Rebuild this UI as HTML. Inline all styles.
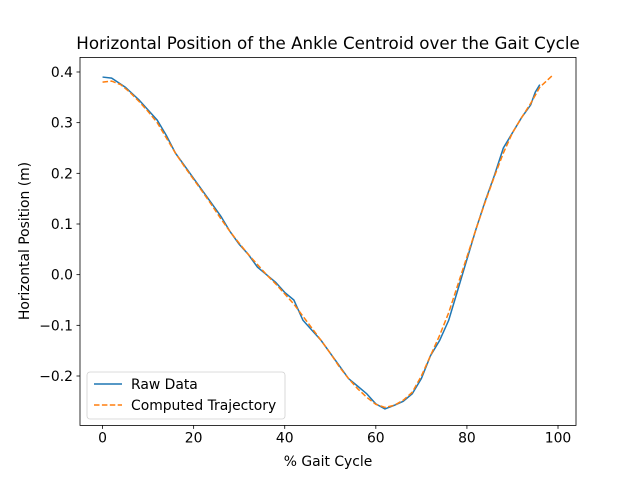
<!DOCTYPE html>
<html><head><meta charset="utf-8"><style>
body{margin:0;background:#fff}
svg{font-family:"DejaVu Sans","Liberation Sans",sans-serif}
</style></head><body>
<svg id="c" width="640" height="478"></svg>
<script>
const rawX=[0,2,3,5,8,10,12,14,16,18,20,22,24,26,28,30,32,34,36,38,40,42,44,46,48,50,52,54,56,58,60,62,64,66,68,70,72,74,76,78,80,82,84,86,88,90,92,94,95,96];
const rawY=[0.39,0.388,0.382,0.37,0.345,0.325,0.305,0.275,0.24,0.215,0.19,0.165,0.14,0.115,0.085,0.06,0.04,0.015,0.0,-0.015,-0.035,-0.05,-0.09,-0.11,-0.13,-0.155,-0.18,-0.205,-0.22,-0.235,-0.255,-0.265,-0.258,-0.25,-0.235,-0.205,-0.16,-0.13,-0.09,-0.03,0.03,0.09,0.145,0.195,0.25,0.28,0.31,0.335,0.36,0.375];
const compX=[0,2,4,6,8,10,12,14,16,18,20,22,24,26,28,30,32,34,36,38,40,42,44,46,48,50,52,54,56,58,60,62,64,66,68,70,72,74,76,78,80,82,84,86,88,90,92,94,96,99];
const compY=[0.38,0.382,0.375,0.36,0.342,0.322,0.3,0.27,0.24,0.213,0.188,0.163,0.137,0.11,0.085,0.062,0.04,0.02,0.0,-0.018,-0.038,-0.058,-0.082,-0.106,-0.13,-0.155,-0.182,-0.205,-0.225,-0.242,-0.256,-0.262,-0.258,-0.248,-0.232,-0.2,-0.16,-0.12,-0.075,-0.02,0.035,0.09,0.143,0.193,0.24,0.28,0.31,0.338,0.37,0.395];
const xTicks=[0,20,40,60,80,100];
const yTicks=[-0.2,-0.1,0.0,0.1,0.2,0.3,0.4];
const L=80,R=576,T=57.4,B=425.4,x0=-4.95,x1=103.95,y0=-0.2975,y1=0.4288;
const sx=v=>L+(v-x0)/(x1-x0)*(R-L), sy=v=>B-(v-y0)/(y1-y0)*(B-T);
const svg=document.getElementById('c');const NS='http://www.w3.org/2000/svg';
function mk(t,a,p){const e=document.createElementNS(NS,t);for(const k in a)e.setAttribute(k,a[k]);(p||svg).appendChild(e);return e;}
const fr=mk('rect',{x:L,y:T,width:R-L,height:B-T,fill:'none',stroke:'#000','stroke-width':0.8});

xTicks.forEach(v=>{const x=sx(v);mk('line',{x1:x,x2:x,y1:B,y2:B+3.5,stroke:'#000','stroke-width':0.8});
const t=mk('text',{x:x,y:B+17,'font-size':13.9,'text-anchor':'middle'});t.textContent=v;
});
yTicks.forEach(v=>{const y=sy(v);mk('line',{x1:L-3.5,x2:L,y1:y,y2:y,stroke:'#000','stroke-width':0.8});
const t=mk('text',{x:L-7,y:y+5,'font-size':13.9,'text-anchor':'end'});t.textContent=v.toFixed(1).replace('-','\u2212');
});
function line(xs,ys,col,dash,name){const p=mk('polyline',{points:xs.map((x,i)=>sx(x)+','+sy(ys[i])).join(' '),fill:'none',stroke:col,'stroke-width':1.5});
if(dash)p.setAttribute('stroke-dasharray',dash);}
line(rawX,rawY,'#1f77b4',null,'raw-data-line');
line(compX,compY,'#ff7f0e','5.5,2.4','computed-trajectory-line');
let t=mk('text',{x:328,y:49,'font-size':16.7,'text-anchor':'middle'});t.textContent='Horizontal Position of the Ankle Centroid over the Gait Cycle';

t=mk('text',{x:328,y:466,'font-size':13.9,'text-anchor':'middle'});t.textContent='% Gait Cycle';

t=mk('text',{x:0,y:0,'font-size':13.9,'text-anchor':'middle',transform:'translate(29,241) rotate(-90)'});t.textContent='Horizontal Position (m)';

const lg=mk('g',{});
mk('rect',{x:87,y:372,width:198,height:47,rx:3,fill:'#fff',stroke:'#ccc','stroke-width':0.8,opacity:0.9},lg);
mk('line',{x1:94,x2:122,y1:384,y2:384,stroke:'#1f77b4','stroke-width':1.5},lg);
mk('line',{x1:94,x2:122,y1:405,y2:405,stroke:'#ff7f0e','stroke-width':1.5,'stroke-dasharray':'5.5,2.4'},lg);
t=mk('text',{x:131,y:389,'font-size':13.9},lg);t.textContent='Raw Data';

t=mk('text',{x:131,y:410,'font-size':13.9},lg);t.textContent='Computed Trajectory';

</script>
</body></html>
